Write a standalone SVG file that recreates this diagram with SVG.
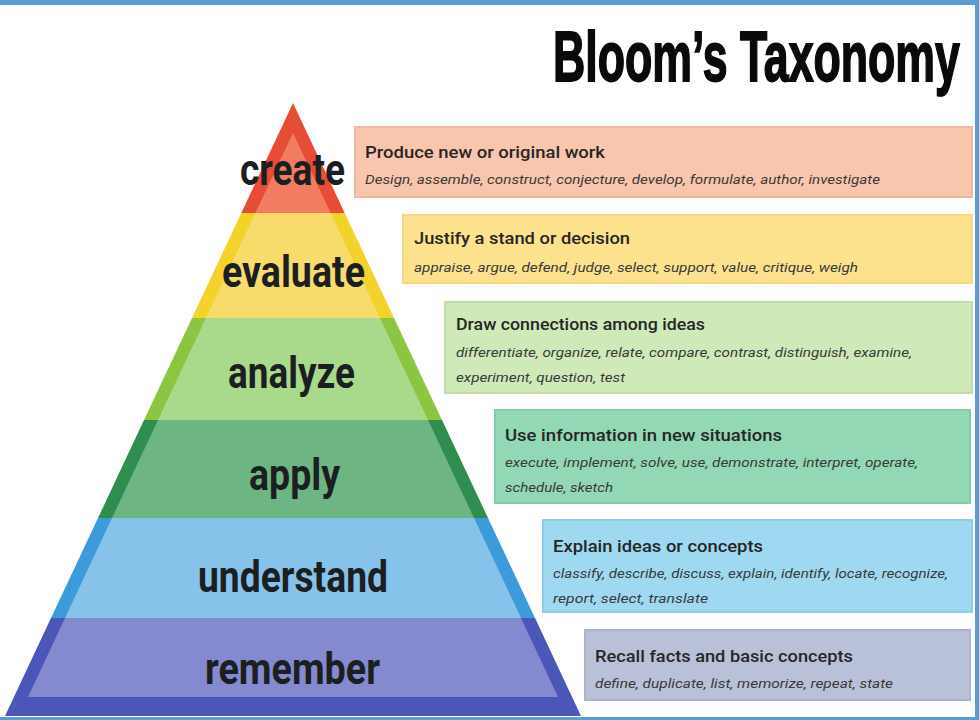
<svg xmlns="http://www.w3.org/2000/svg" width="979" height="720" viewBox="0 0 979 720">
  <style>
    .lbl { font-family: "Roboto", "Liberation Sans", sans-serif; font-weight: 700; font-size: 44px; fill: #1c1f22; text-anchor: start; }
    .head { font-family: "Roboto", "Liberation Sans", sans-serif; font-weight: 500; font-size: 16px; fill: #262626; }
    .verbs { font-family: "Roboto", "Liberation Sans", sans-serif; font-weight: 400; font-size: 12.5px; fill: #3a3a3a; font-style: italic; }
    .title { font-family: "Liberation Sans", "Roboto", sans-serif; font-weight: 700; font-size: 70px; fill: #0a0a0a; stroke: #0a0a0a; stroke-width: 1.8; }
    .box { stroke-width: 2; }
  </style>
  <rect width="979" height="720" fill="#ffffff"/>

  <g id="title">
    <text class="title" transform="translate(553,81) scale(0.638,1)" x="0" y="0">Bloom’s Taxonomy</text>
  </g>

  <g id="create">
    <polygon points="293,103 344.7,213 241.3,213" fill="#e74c36"/>
    <polygon points="293,133 330.7,213 255.3,213" fill="#f17c62"/>
    <text class="lbl" x="240" y="185" textLength="105" lengthAdjust="spacingAndGlyphs">create</text>
    <rect class="box" x="355" y="127" width="617" height="70" fill="#f9c5ad" stroke="#efb7a0"/>
    <text class="head" x="365" y="158" textLength="240" lengthAdjust="spacingAndGlyphs">Produce new or original work</text>
    <text class="verbs" x="365" y="184" textLength="515" lengthAdjust="spacingAndGlyphs">Design, assemble, construct, conjecture, develop, formulate, author, investigate</text>
  </g>

  <g id="evaluate">
    <polygon points="241.3,213 344.7,213 394,318 192,318" fill="#f3d22c"/>
    <polygon points="255.3,213 330.7,213 380,318 206,318" fill="#f7dc6c"/>
    <text class="lbl" x="222" y="287" textLength="143" lengthAdjust="spacingAndGlyphs">evaluate</text>
    <rect class="box" x="403" y="215" width="569" height="68" fill="#fde28e" stroke="#f4d884"/>
    <text class="head" x="414" y="244" textLength="216" lengthAdjust="spacingAndGlyphs">Justify a stand or decision</text>
    <text class="verbs" x="414" y="272" textLength="444" lengthAdjust="spacingAndGlyphs">appraise, argue, defend, judge, select, support, value, critique, weigh</text>
  </g>

  <g id="analyze">
    <polygon points="192,318 394,318 442,420 144,420" fill="#8cc541"/>
    <polygon points="206,318 380,318 428,420 158,420" fill="#a9d98b"/>
    <text class="lbl" x="228" y="388" textLength="127" lengthAdjust="spacingAndGlyphs">analyze</text>
    <rect class="box" x="445" y="302" width="527" height="91" fill="#cfe9b8" stroke="#c2ddab"/>
    <text class="head" x="456" y="330" textLength="249" lengthAdjust="spacingAndGlyphs">Draw connections among ideas</text>
    <text class="verbs" x="456" y="357" textLength="456" lengthAdjust="spacingAndGlyphs">differentiate, organize, relate, compare, contrast, distinguish, examine,</text>
    <text class="verbs" x="456" y="382" textLength="169" lengthAdjust="spacingAndGlyphs">experiment, question, test</text>
  </g>

  <g id="apply">
    <polygon points="144,420 442,420 488,518 98,518" fill="#2f8e4f"/>
    <polygon points="158,420 428,420 474,518 112,518" fill="#6eb584"/>
    <text class="lbl" x="249" y="490" textLength="91" lengthAdjust="spacingAndGlyphs">apply</text>
    <rect class="box" x="495" y="410" width="475" height="93" fill="#93d8b5" stroke="#86cba8"/>
    <text class="head" x="505" y="441" textLength="277" lengthAdjust="spacingAndGlyphs">Use information in new situations</text>
    <text class="verbs" x="505" y="467" textLength="413" lengthAdjust="spacingAndGlyphs">execute, implement, solve, use, demonstrate, interpret, operate,</text>
    <text class="verbs" x="505" y="492" textLength="108" lengthAdjust="spacingAndGlyphs">schedule, sketch</text>
  </g>

  <g id="understand">
    <polygon points="98,518 488,518 535,618 51,618" fill="#3d9bda"/>
    <polygon points="112,518 474,518 521,618 65,618" fill="#86c2ea"/>
    <text class="lbl" x="198" y="592" textLength="190" lengthAdjust="spacingAndGlyphs">understand</text>
    <rect class="box" x="543" y="520" width="429" height="92" fill="#9ed9f1" stroke="#90cbe3"/>
    <text class="head" x="553" y="552" textLength="210" lengthAdjust="spacingAndGlyphs">Explain ideas or concepts</text>
    <text class="verbs" x="553" y="578" textLength="395" lengthAdjust="spacingAndGlyphs">classify, describe, discuss, explain, identify, locate, recognize,</text>
    <text class="verbs" x="553" y="603" textLength="155" lengthAdjust="spacingAndGlyphs">report, select, translate</text>
  </g>

  <g id="remember">
    <polygon points="51,618 535,618 581,716 5,716" fill="#4b56b8"/>
    <polygon points="65,618 521,618 558,697 28,697" fill="#8589cf"/>
    <text class="lbl" x="205" y="684" textLength="175" lengthAdjust="spacingAndGlyphs">remember</text>
    <rect class="box" x="585" y="630" width="385" height="70" fill="#b9c1d8" stroke="#acb4cb"/>
    <text class="head" x="595" y="662" textLength="258" lengthAdjust="spacingAndGlyphs">Recall facts and basic concepts</text>
    <text class="verbs" x="595" y="688" textLength="298" lengthAdjust="spacingAndGlyphs">define, duplicate, list, memorize, repeat, state</text>
  </g>

  <g id="connectors"></g>

  <g id="frame" fill="#5b9bd5">
    <rect x="0" y="0" width="979" height="5"/>
    <rect x="975" y="0" width="4" height="720"/>
    <rect x="0" y="717" width="979" height="3"/>
  </g>
</svg>
